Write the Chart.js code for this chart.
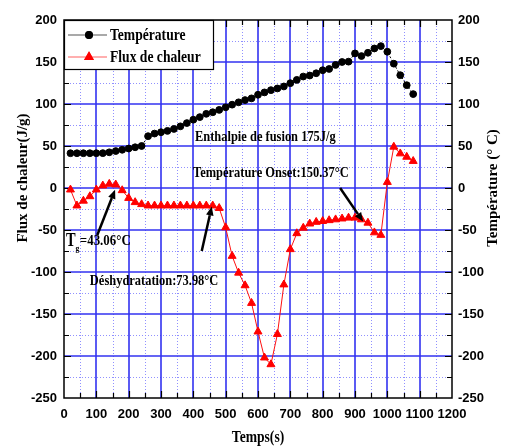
<!DOCTYPE html>
<html>
<head>
<meta charset="utf-8">
<title>DSC</title>
<script src="https://cdn.jsdelivr.net/npm/chart.js@4.4.0/dist/chart.umd.min.js"></script>
<style>
  html, body { margin: 0; padding: 0; background: #fff; }
  #wrap { position: relative; width: 505px; height: 448px; }
</style>
</head>
<body>
<div id="wrap"><canvas id="dscChart"></canvas></div>
<script>
// Sample times (s)
const times = [20, 40, 60, 80, 100, 120, 140, 160, 180, 200, 220, 240, 260, 280, 300, 320, 340, 360,
  380, 400, 420, 440, 460, 480, 500, 520, 540, 560, 580, 600, 620, 640, 660, 680, 700, 720,
  740, 760, 780, 800, 820, 840, 860, 880, 900, 920, 940, 960, 980, 1000, 1020, 1040, 1060, 1080];

// Température (°C)
const temperature = [41.4, 41.4, 41.4, 41.4, 41.4, 41.5, 42.5, 44, 45.5, 47, 48.5, 50, 61.7, 64.8, 66.4, 68, 70.3, 73.4,
  77.3, 81.3, 84.4, 88.3, 90.2, 93, 96.1, 99.2, 102, 104.7, 106.7, 111, 113.8, 116.5, 118.5, 120.9, 124.8, 128.7,
  132.7, 133.9, 136.6, 140.2, 141.7, 146.5, 150, 150.4, 160.2, 157.1, 161, 166.1, 168.9, 162.2, 148, 134.3, 122.4, 111.8];

// Flux de chaleur (J/g)
const heatFlux = [-2, -21, -15.3, -10, -2, 2.8, 4.8, 4, -2.8, -12, -17, -19.4, -21, -21, -21, -21, -21, -21,
  -21, -21, -21, -21, -21, -24, -47, -81, -101, -116, -137, -171, -202, -210, -174, -115, -73, -54,
  -47.5, -42.5, -40.5, -39.5, -38.5, -37.5, -36.5, -35.5, -35.5, -37.5, -41.5, -53, -56, 7, 49, 41, 37, 32];

const xRange = [0, 1200];
const yRange = [-250, 200];

const notes = [
  { text: "Enthalpie de fusion 175J/g", x: 405, y: 60 },
  { text: "Température Onset:150.37°C", x: 399, y: 18 },
  { text: "Déshydratation:73.98°C", x: 80, y: -111 },
];
const arrows = [
  { from: [103, -56], to: [158, -2] },
  { from: [426, -75], to: [457, -22] },
  { from: [854, 0], to: [925, -40] },
];

const serif = "'Liberation Serif', 'Times New Roman', serif";
const sans = "'Liberation Sans Narrow', 'Arial Narrow', 'Liberation Sans', Arial, sans-serif";

// bold serif text squeezed horizontally, like the reference's condensed Times
function narrowText(ctx, text, x, y, size, squeeze) {
  ctx.save();
  ctx.translate(x, y);
  ctx.scale(squeeze, 1);
  ctx.font = "bold " + size + "px " + serif;
  ctx.fillText(text, 0, 0);
  const w = ctx.measureText(text).width * squeeze;
  ctx.restore();
  return w;
}

function drawArrow(ctx, x1, y1, x2, y2) {
  const a = Math.atan2(y2 - y1, x2 - x1);
  const len = 9, half = 3.8;
  const bx = x2 - Math.cos(a) * len, by = y2 - Math.sin(a) * len;
  ctx.beginPath();
  ctx.moveTo(x1, y1);
  ctx.lineTo(bx, by);
  ctx.lineWidth = 2.5;
  ctx.strokeStyle = "#000";
  ctx.stroke();
  ctx.beginPath();
  ctx.moveTo(x2, y2);
  ctx.lineTo(bx + Math.sin(a) * half, by - Math.cos(a) * half);
  ctx.lineTo(bx - Math.sin(a) * half, by + Math.cos(a) * half);
  ctx.closePath();
  ctx.fillStyle = "#000";
  ctx.fill();
}

// grid, frame and inward tick marks
const framePlugin = {
  id: "frame",
  beforeDatasetsDraw(chart) {
    const { ctx, chartArea: a } = chart;
    const sx = chart.scales.x, sy = chart.scales.y;
    ctx.save();
    ctx.lineWidth = 1;
    ctx.strokeStyle = "#9090ff";
    ctx.setLineDash([1, 2]);
    for (let v = 50; v < xRange[1]; v += 100) {
      const px = Math.round(sx.getPixelForValue(v)) + 0.5;
      ctx.beginPath(); ctx.moveTo(px, a.top); ctx.lineTo(px, a.bottom); ctx.stroke();
    }
    for (let v = -225; v < yRange[1]; v += 50) {
      const py = Math.round(sy.getPixelForValue(v)) + 0.5;
      ctx.beginPath(); ctx.moveTo(a.left, py); ctx.lineTo(a.right, py); ctx.stroke();
    }
    ctx.setLineDash([]);
    ctx.lineWidth = 1.6;
    ctx.strokeStyle = "#3232f0";
    for (let v = 100; v < xRange[1]; v += 100) {
      const px = Math.round(sx.getPixelForValue(v));
      ctx.beginPath(); ctx.moveTo(px, a.top); ctx.lineTo(px, a.bottom); ctx.stroke();
    }
    for (let v = -200; v < yRange[1]; v += 50) {
      const py = Math.round(sy.getPixelForValue(v));
      ctx.beginPath(); ctx.moveTo(a.left, py); ctx.lineTo(a.right, py); ctx.stroke();
    }
    // ticks
    ctx.strokeStyle = "#000";
    ctx.lineWidth = 1.2;
    for (let v = 50; v < xRange[1]; v += 50) {
      const px = Math.round(sx.getPixelForValue(v)) + 0.5;
      const t = v % 100 === 0 ? 7 : 5;
      ctx.beginPath();
      ctx.moveTo(px, a.bottom); ctx.lineTo(px, a.bottom - t);
      ctx.moveTo(px, a.top); ctx.lineTo(px, a.top + t);
      ctx.stroke();
    }
    for (let v = -225; v < yRange[1]; v += 25) {
      const py = Math.round(sy.getPixelForValue(v)) + 0.5;
      const t = v % 50 === 0 ? 7 : 5;
      ctx.beginPath();
      ctx.moveTo(a.left, py); ctx.lineTo(a.left + t, py);
      ctx.moveTo(a.right, py); ctx.lineTo(a.right - t, py);
      ctx.stroke();
    }
    ctx.lineWidth = 1.5;
    ctx.strokeRect(a.left, a.top, a.right - a.left, a.bottom - a.top);
    ctx.restore();
  },
  afterDatasetsDraw(chart) {
    const { ctx } = chart;
    const sx = chart.scales.x, sy = chart.scales.y;
    ctx.save();
    ctx.fillStyle = "#000";
    ctx.textBaseline = "middle";
    ctx.textAlign = "left";
    notes.forEach(n => {
      narrowText(ctx, n.text, sx.getPixelForValue(n.x), sy.getPixelForValue(n.y), 15, 0.83);
    });
    // T with subscript g
    let tx = sx.getPixelForValue(6), ty = sy.getPixelForValue(-63);
    tx += narrowText(ctx, "T", tx, ty, 18, 0.8);
    tx += narrowText(ctx, "g", tx, ty + 8, 9, 0.85) + 0.5;
    narrowText(ctx, "=43.06°C", tx, ty, 15, 0.86);
    arrows.forEach(r => {
      drawArrow(ctx, sx.getPixelForValue(r.from[0]), sy.getPixelForValue(r.from[1]),
        sx.getPixelForValue(r.to[0]), sy.getPixelForValue(r.to[1]));
    });

    // legend box
    const a = chart.chartArea;
    const bx = a.left, by = a.top, bw = 149, bh = 49;
    ctx.fillStyle = "#fff";
    ctx.fillRect(bx, by, bw, bh);
    ctx.strokeStyle = "#000";
    ctx.lineWidth = 1.2;
    ctx.strokeRect(bx + 0.5, by + 0.5, bw, bh);
    chart.data.datasets.forEach((ds, i) => {
      const ly = by + 15 + i * 22;
      ctx.strokeStyle = i === 0 ? "#555" : "#ff6060";
      ctx.lineWidth = 1.2;
      ctx.beginPath(); ctx.moveTo(bx + 4, ly); ctx.lineTo(bx + 43, ly); ctx.stroke();
      Chart.helpers.drawPoint(ctx, {
        pointStyle: ds.pointStyle, radius: ds.pointRadius, borderWidth: 1, rotation: 0
      }, bx + 25, ly);
      ctx.fillStyle = ds.pointBackgroundColor;
      ctx.strokeStyle = ds.pointBorderColor;
      ctx.fill(); ctx.stroke();
      ctx.fillStyle = "#000";
      narrowText(ctx, ds.label, bx + 46, ly + 1, 17, 0.8);
    });

    // axis titles
    ctx.font = "bold 15px " + serif;
    ctx.textAlign = "center";
    ctx.save();
    ctx.translate(23, 178);
    ctx.rotate(-Math.PI / 2);
    ctx.fillText("Flux de chaleur(J/g)", 0, 0);
    ctx.restore();
    ctx.save();
    ctx.translate(493, 188);
    ctx.rotate(-Math.PI / 2);
    ctx.fillText("Température (° C)", 0, 0);
    ctx.restore();
    ctx.font = "bold 16px " + serif;
    ctx.save();
    ctx.translate((a.left + a.right) / 2, 438);
    ctx.scale(0.85, 1);
    ctx.fillText("Temps(s)", 0, 0);
    ctx.restore();
    ctx.restore();
  },
};

const tickFont = { family: sans, size: 13, weight: "bold" };
const plainNumber = v => String(v);

new Chart(document.getElementById("dscChart"), {
  type: "line",
  data: {
    datasets: [
      {
        label: "Température",
        data: times.map((t, i) => ({ x: t, y: temperature[i] })),
        borderColor: "#000",
        borderWidth: 1,
        borderDash: [2, 2],
        pointStyle: "circle",
        pointRadius: 3.4,
        pointBorderWidth: 1,
        pointBackgroundColor: "#000",
        pointBorderColor: "#000",
        yAxisID: "y",
      },
      {
        label: "Flux de chaleur",
        data: times.map((t, i) => ({ x: t, y: heatFlux[i] })),
        borderColor: "#ff1010",
        borderWidth: 1,
        pointStyle: "triangle",
        pointRadius: 4.6,
        pointBorderWidth: 1,
        pointBackgroundColor: "#ff0000",
        pointBorderColor: "#ff0000",
        yAxisID: "y",
      },
    ],
  },
  options: {
    responsive: true,
    maintainAspectRatio: false,
    animation: false,
    layout: { padding: { top: 20, left: 0, right: 0, bottom: 0 } },
    plugins: { legend: { display: false }, tooltip: { enabled: false } },
    scales: {
      x: {
        type: "linear",
        min: xRange[0],
        max: xRange[1],
        grid: { display: false, drawTicks: false },
        border: { display: false },
        ticks: { stepSize: 100, autoSkip: false, color: "#000", font: tickFont, padding: 9, maxRotation: 0, callback: plainNumber },
        afterFit(s) { s.height = 50; },
      },
      y: {
        position: "left",
        min: yRange[0],
        max: yRange[1],
        grid: { display: false, drawTicks: false },
        border: { display: false },
        ticks: { stepSize: 50, autoSkip: false, color: "#000", font: tickFont, padding: 7, callback: plainNumber },
        afterFit(s) { s.width = 64; },
      },
      y2: {
        position: "right",
        min: yRange[0],
        max: yRange[1],
        grid: { display: false, drawTicks: false },
        border: { display: false },
        ticks: { stepSize: 50, autoSkip: false, color: "#000", font: tickFont, padding: 6, callback: plainNumber },
        afterFit(s) { s.width = 53; },
      },
    },
  },
  plugins: [framePlugin],
});
</script>
</body>
</html>
